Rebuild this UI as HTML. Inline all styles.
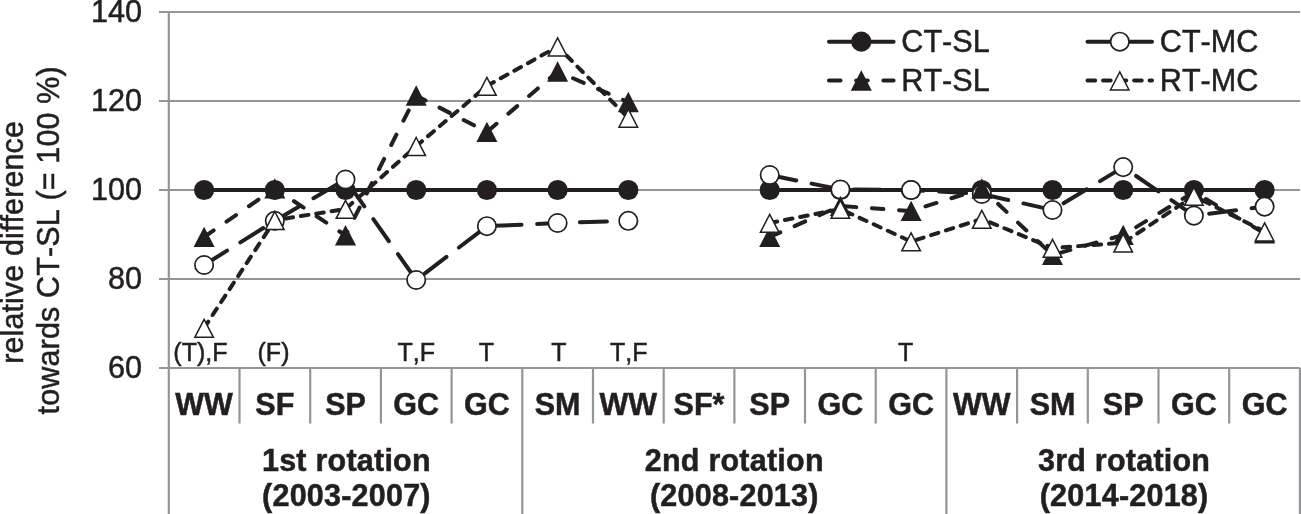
<!DOCTYPE html>
<html lang="en"><head><meta charset="utf-8"><title>Relative difference towards CT-SL</title>
<style>html,body{margin:0;padding:0;background:#fff;overflow:hidden}body{width:1301px;height:514px;position:relative;font-family:"Liberation Sans",sans-serif}</style>
</head><body>
<svg width="1301" height="514" viewBox="0 0 1301 514" style="display:block;position:absolute;left:0;top:0">
<rect width="1301" height="514" fill="#fff"/>
<line x1="159" y1="12.0" x2="1299.9" y2="12.0" stroke="#939598" stroke-width="2.2"/>
<line x1="159" y1="101.0" x2="1299.9" y2="101.0" stroke="#939598" stroke-width="2.2"/>
<line x1="159" y1="190.0" x2="1299.9" y2="190.0" stroke="#939598" stroke-width="2.2"/>
<line x1="159" y1="279.0" x2="1299.9" y2="279.0" stroke="#939598" stroke-width="2.2"/>
<line x1="159" y1="368.0" x2="1299.9" y2="368.0" stroke="#939598" stroke-width="2.2"/>
<line x1="168.8" y1="12.0" x2="168.8" y2="514" stroke="#939598" stroke-width="2.2"/>
<line x1="239.5" y1="368.0" x2="239.5" y2="423.5" stroke="#939598" stroke-width="2.2"/>
<line x1="310.2" y1="368.0" x2="310.2" y2="423.5" stroke="#939598" stroke-width="2.2"/>
<line x1="380.9" y1="368.0" x2="380.9" y2="423.5" stroke="#939598" stroke-width="2.2"/>
<line x1="451.6" y1="368.0" x2="451.6" y2="423.5" stroke="#939598" stroke-width="2.2"/>
<line x1="522.3" y1="368.0" x2="522.3" y2="514" stroke="#939598" stroke-width="2.2"/>
<line x1="593.0" y1="368.0" x2="593.0" y2="423.5" stroke="#939598" stroke-width="2.2"/>
<line x1="663.7" y1="368.0" x2="663.7" y2="423.5" stroke="#939598" stroke-width="2.2"/>
<line x1="734.4" y1="368.0" x2="734.4" y2="423.5" stroke="#939598" stroke-width="2.2"/>
<line x1="805.0" y1="368.0" x2="805.0" y2="423.5" stroke="#939598" stroke-width="2.2"/>
<line x1="875.7" y1="368.0" x2="875.7" y2="423.5" stroke="#939598" stroke-width="2.2"/>
<line x1="946.4" y1="368.0" x2="946.4" y2="514" stroke="#939598" stroke-width="2.2"/>
<line x1="1017.1" y1="368.0" x2="1017.1" y2="423.5" stroke="#939598" stroke-width="2.2"/>
<line x1="1087.8" y1="368.0" x2="1087.8" y2="423.5" stroke="#939598" stroke-width="2.2"/>
<line x1="1158.5" y1="368.0" x2="1158.5" y2="423.5" stroke="#939598" stroke-width="2.2"/>
<line x1="1229.2" y1="368.0" x2="1229.2" y2="423.5" stroke="#939598" stroke-width="2.2"/>
<line x1="1299.9" y1="368.0" x2="1299.9" y2="514" stroke="#939598" stroke-width="2.2"/>
<polyline points="204.1,190.0 274.8,190.0 345.5,190.0 416.2,190.0 486.9,190.0 557.6,190.0 628.3,190.0" fill="none" stroke="#231f20" stroke-width="4.0" stroke-linecap="round" stroke-linejoin="round"/>
<polyline points="769.7,190.0 840.4,190.0 911.1,190.0 981.8,190.0 1052.5,190.0 1123.2,190.0 1193.9,190.0 1264.6,190.0" fill="none" stroke="#231f20" stroke-width="4.0" stroke-linecap="round" stroke-linejoin="round"/>
<circle cx="204.1" cy="190.0" r="10.1" fill="#231f20"/>
<circle cx="274.8" cy="190.0" r="10.1" fill="#231f20"/>
<circle cx="345.5" cy="190.0" r="10.1" fill="#231f20"/>
<circle cx="416.2" cy="190.0" r="10.1" fill="#231f20"/>
<circle cx="486.9" cy="190.0" r="10.1" fill="#231f20"/>
<circle cx="557.6" cy="190.0" r="10.1" fill="#231f20"/>
<circle cx="628.3" cy="190.0" r="10.1" fill="#231f20"/>
<circle cx="769.7" cy="190.0" r="10.1" fill="#231f20"/>
<circle cx="840.4" cy="190.0" r="10.1" fill="#231f20"/>
<circle cx="911.1" cy="190.0" r="10.1" fill="#231f20"/>
<circle cx="981.8" cy="190.0" r="10.1" fill="#231f20"/>
<circle cx="1052.5" cy="190.0" r="10.1" fill="#231f20"/>
<circle cx="1123.2" cy="190.0" r="10.1" fill="#231f20"/>
<circle cx="1193.9" cy="190.0" r="10.1" fill="#231f20"/>
<circle cx="1264.6" cy="190.0" r="10.1" fill="#231f20"/>
<polyline points="204.1,265.0 274.8,220.8 345.5,179.5 416.2,280.0 486.9,226.2 557.6,223.0 628.3,220.8" fill="none" stroke="#231f20" stroke-width="4.0" stroke-linecap="round" stroke-linejoin="round" stroke-dasharray="27.08 15.65"/>
<polyline points="769.7,175.0 840.4,189.5 911.1,190.0 981.8,194.0 1052.5,210.0 1123.2,167.1 1193.9,215.6 1264.6,206.6" fill="none" stroke="#231f20" stroke-width="4.0" stroke-linecap="round" stroke-linejoin="round" stroke-dasharray="27.08 15.65"/>
<circle cx="204.1" cy="265.0" r="9.2" fill="#fff" stroke="#231f20" stroke-width="1.7"/>
<circle cx="274.8" cy="220.8" r="9.2" fill="#fff" stroke="#231f20" stroke-width="1.7"/>
<circle cx="345.5" cy="179.5" r="9.2" fill="#fff" stroke="#231f20" stroke-width="1.7"/>
<circle cx="416.2" cy="280.0" r="9.2" fill="#fff" stroke="#231f20" stroke-width="1.7"/>
<circle cx="486.9" cy="226.2" r="9.2" fill="#fff" stroke="#231f20" stroke-width="1.7"/>
<circle cx="557.6" cy="223.0" r="9.2" fill="#fff" stroke="#231f20" stroke-width="1.7"/>
<circle cx="628.3" cy="220.8" r="9.2" fill="#fff" stroke="#231f20" stroke-width="1.7"/>
<circle cx="769.7" cy="175.0" r="9.2" fill="#fff" stroke="#231f20" stroke-width="1.7"/>
<circle cx="840.4" cy="189.5" r="9.2" fill="#fff" stroke="#231f20" stroke-width="1.7"/>
<circle cx="911.1" cy="190.0" r="9.2" fill="#fff" stroke="#231f20" stroke-width="1.7"/>
<circle cx="981.8" cy="194.0" r="9.2" fill="#fff" stroke="#231f20" stroke-width="1.7"/>
<circle cx="1052.5" cy="210.0" r="9.2" fill="#fff" stroke="#231f20" stroke-width="1.7"/>
<circle cx="1123.2" cy="167.1" r="9.2" fill="#fff" stroke="#231f20" stroke-width="1.7"/>
<circle cx="1193.9" cy="215.6" r="9.2" fill="#fff" stroke="#231f20" stroke-width="1.7"/>
<circle cx="1264.6" cy="206.6" r="9.2" fill="#fff" stroke="#231f20" stroke-width="1.7"/>
<polyline points="204.1,237.0 274.8,188.5 345.5,235.4 416.2,95.6 486.9,132.0 557.6,71.6 628.3,102.1" fill="none" stroke="#231f20" stroke-width="4.0" stroke-linecap="round" stroke-linejoin="round" stroke-dasharray="11.54 15.65"/>
<polyline points="769.7,237.0 840.4,206.0 911.1,211.0 981.8,188.6 1052.5,255.0 1123.2,235.0 1193.9,192.0 1264.6,233.4" fill="none" stroke="#231f20" stroke-width="4.0" stroke-linecap="round" stroke-linejoin="round" stroke-dasharray="11.54 15.65"/>
<polygon points="204.1,228.3 213.4,246.3 194.8,246.3" fill="#231f20" stroke="#231f20" stroke-width="1.5" stroke-linejoin="miter"/>
<polygon points="274.8,179.8 284.1,197.8 265.5,197.8" fill="#231f20" stroke="#231f20" stroke-width="1.5" stroke-linejoin="miter"/>
<polygon points="345.5,226.7 354.8,244.7 336.2,244.7" fill="#231f20" stroke="#231f20" stroke-width="1.5" stroke-linejoin="miter"/>
<polygon points="416.2,86.9 425.5,104.9 406.9,104.9" fill="#231f20" stroke="#231f20" stroke-width="1.5" stroke-linejoin="miter"/>
<polygon points="486.9,123.3 496.2,141.3 477.6,141.3" fill="#231f20" stroke="#231f20" stroke-width="1.5" stroke-linejoin="miter"/>
<polygon points="557.6,62.9 566.9,80.9 548.3,80.9" fill="#231f20" stroke="#231f20" stroke-width="1.5" stroke-linejoin="miter"/>
<polygon points="628.3,93.4 637.6,111.4 619.0,111.4" fill="#231f20" stroke="#231f20" stroke-width="1.5" stroke-linejoin="miter"/>
<polygon points="769.7,228.3 779.0,246.3 760.4,246.3" fill="#231f20" stroke="#231f20" stroke-width="1.5" stroke-linejoin="miter"/>
<polygon points="840.4,197.3 849.7,215.3 831.1,215.3" fill="#231f20" stroke="#231f20" stroke-width="1.5" stroke-linejoin="miter"/>
<polygon points="911.1,202.3 920.4,220.3 901.8,220.3" fill="#231f20" stroke="#231f20" stroke-width="1.5" stroke-linejoin="miter"/>
<polygon points="981.8,179.9 991.1,197.9 972.5,197.9" fill="#231f20" stroke="#231f20" stroke-width="1.5" stroke-linejoin="miter"/>
<polygon points="1052.5,246.3 1061.8,264.3 1043.2,264.3" fill="#231f20" stroke="#231f20" stroke-width="1.5" stroke-linejoin="miter"/>
<polygon points="1123.2,226.3 1132.5,244.3 1113.9,244.3" fill="#231f20" stroke="#231f20" stroke-width="1.5" stroke-linejoin="miter"/>
<polygon points="1193.9,183.3 1203.2,201.3 1184.6,201.3" fill="#231f20" stroke="#231f20" stroke-width="1.5" stroke-linejoin="miter"/>
<polygon points="1264.6,224.7 1273.9,242.7 1255.3,242.7" fill="#231f20" stroke="#231f20" stroke-width="1.5" stroke-linejoin="miter"/>
<polyline points="204.1,328.0 274.8,220.2 345.5,209.0 416.2,146.2 486.9,86.0 557.6,46.6 628.3,117.9" fill="none" stroke="#231f20" stroke-width="4.0" stroke-linecap="round" stroke-linejoin="round" stroke-dasharray="7.65 7.88"/>
<polyline points="769.7,223.0 840.4,209.0 911.1,241.5 981.8,219.0 1052.5,248.0 1123.2,242.8 1193.9,196.0 1264.6,231.6" fill="none" stroke="#231f20" stroke-width="4.0" stroke-linecap="round" stroke-linejoin="round" stroke-dasharray="7.65 7.88"/>
<polygon points="204.1,319.3 213.4,337.3 194.8,337.3" fill="#fff" stroke="#231f20" stroke-width="1.5" stroke-linejoin="miter"/>
<polygon points="274.8,211.5 284.1,229.6 265.5,229.6" fill="#fff" stroke="#231f20" stroke-width="1.5" stroke-linejoin="miter"/>
<polygon points="345.5,200.3 354.8,218.3 336.2,218.3" fill="#fff" stroke="#231f20" stroke-width="1.5" stroke-linejoin="miter"/>
<polygon points="416.2,137.5 425.5,155.6 406.9,155.6" fill="#fff" stroke="#231f20" stroke-width="1.5" stroke-linejoin="miter"/>
<polygon points="486.9,77.3 496.2,95.3 477.6,95.3" fill="#fff" stroke="#231f20" stroke-width="1.5" stroke-linejoin="miter"/>
<polygon points="557.6,37.9 566.9,55.9 548.3,55.9" fill="#fff" stroke="#231f20" stroke-width="1.5" stroke-linejoin="miter"/>
<polygon points="628.3,109.2 637.6,127.2 619.0,127.2" fill="#fff" stroke="#231f20" stroke-width="1.5" stroke-linejoin="miter"/>
<polygon points="769.7,214.3 779.0,232.3 760.4,232.3" fill="#fff" stroke="#231f20" stroke-width="1.5" stroke-linejoin="miter"/>
<polygon points="840.4,200.3 849.7,218.3 831.1,218.3" fill="#fff" stroke="#231f20" stroke-width="1.5" stroke-linejoin="miter"/>
<polygon points="911.1,232.8 920.4,250.8 901.8,250.8" fill="#fff" stroke="#231f20" stroke-width="1.5" stroke-linejoin="miter"/>
<polygon points="981.8,210.3 991.1,228.3 972.5,228.3" fill="#fff" stroke="#231f20" stroke-width="1.5" stroke-linejoin="miter"/>
<polygon points="1052.5,239.3 1061.8,257.3 1043.2,257.3" fill="#fff" stroke="#231f20" stroke-width="1.5" stroke-linejoin="miter"/>
<polygon points="1123.2,234.0 1132.5,252.1 1113.9,252.1" fill="#fff" stroke="#231f20" stroke-width="1.5" stroke-linejoin="miter"/>
<polygon points="1193.9,187.3 1203.2,205.3 1184.6,205.3" fill="#fff" stroke="#231f20" stroke-width="1.5" stroke-linejoin="miter"/>
<polygon points="1264.6,222.9 1273.9,240.9 1255.3,240.9" fill="#fff" stroke="#231f20" stroke-width="1.5" stroke-linejoin="miter"/>
<line x1="829.0" y1="41.7" x2="893.6" y2="41.7" stroke="#231f20" stroke-width="4.0" stroke-linecap="round"/>
<circle cx="861.3" cy="41.7" r="10.1" fill="#231f20"/>
<line x1="829.0" y1="80.6" x2="893.6" y2="80.6" stroke="#231f20" stroke-width="4.0" stroke-linecap="round" stroke-dasharray="11.54 15.65"/>
<polygon points="861.3,71.9 870.6,89.9 852.0,89.9" fill="#231f20" stroke="#231f20" stroke-width="1.5" stroke-linejoin="miter"/>
<line x1="1087.5" y1="41.7" x2="1152.0" y2="41.7" stroke="#231f20" stroke-width="4.0" stroke-linecap="round"/>
<circle cx="1119.8" cy="41.7" r="9.2" fill="#fff" stroke="#231f20" stroke-width="1.7"/>
<line x1="1087.5" y1="80.6" x2="1152.0" y2="80.6" stroke="#231f20" stroke-width="4.0" stroke-linecap="round" stroke-dasharray="7.65 7.88"/>
<polygon points="1119.8,71.9 1129.0,89.9 1110.5,89.9" fill="#fff" stroke="#231f20" stroke-width="1.5" stroke-linejoin="miter"/>
<g font-family="Liberation Sans, sans-serif" fill="#231f20" stroke="#231f20" stroke-width="0.5" style="font-kerning:none" font-size="30.6">
<text x="901.3" y="52.1">CT-SL</text>
<text x="901.3" y="91">RT-SL</text>
<text x="1159.8" y="52.1">CT-MC</text>
<text x="1159.8" y="91">RT-MC</text>
</g>
<g font-family="Liberation Sans, sans-serif" fill="#231f20" stroke="#231f20" stroke-width="0.5" style="font-kerning:none" font-size="30.6" text-anchor="end">
<text x="142" y="22.1">140</text>
<text x="142" y="111.2">120</text>
<text x="142" y="200.2">100</text>
<text x="142" y="289.1">80</text>
<text x="142" y="378.1">60</text>
</g>
<g font-family="Liberation Sans, sans-serif" fill="#231f20" stroke="#231f20" stroke-width="0.5" style="font-kerning:none" font-size="25" text-anchor="middle">
<text x="200.4" y="361.3">(T),F</text>
<text x="273.5" y="361.3">(F)</text>
<text x="416.2" y="361.3">T,F</text>
<text x="486.5" y="361.3">T</text>
<text x="558.8" y="361.3">T</text>
<text x="628.8" y="361.3">T,F</text>
<text x="905.7" y="361.3">T</text>
</g>
<g font-family="Liberation Sans, sans-serif" fill="#231f20" stroke="#231f20" stroke-width="0.5" style="font-kerning:none" font-size="30.5" font-weight="bold" text-anchor="middle">
<text x="204.1" y="415.3">WW</text>
<text x="274.8" y="415.3">SF</text>
<text x="345.5" y="415.3">SP</text>
<text x="416.2" y="415.3">GC</text>
<text x="486.9" y="415.3">GC</text>
<text x="557.6" y="415.3">SM</text>
<text x="628.3" y="415.3">WW</text>
<text x="699.0" y="415.3">SF*</text>
<text x="769.7" y="415.3">SP</text>
<text x="840.4" y="415.3">GC</text>
<text x="911.1" y="415.3">GC</text>
<text x="981.8" y="415.3">WW</text>
<text x="1052.5" y="415.3">SM</text>
<text x="1123.2" y="415.3">SP</text>
<text x="1193.9" y="415.3">GC</text>
<text x="1264.6" y="415.3">GC</text>
</g>
<g font-family="Liberation Sans, sans-serif" fill="#231f20" stroke="#231f20" stroke-width="0.5" style="font-kerning:none" font-size="30.5" font-weight="bold" text-anchor="middle" letter-spacing="0.23">
<text x="346.4" y="470.5">1st rotation</text>
<text x="346.4" y="506">(2003-2007)</text>
<text x="734.3" y="470.5">2nd rotation</text>
<text x="734.3" y="506">(2008-2013)</text>
<text x="1124.1" y="470.5">3rd rotation</text>
<text x="1124.1" y="506">(2014-2018)</text>
</g>
<g font-family="Liberation Sans, sans-serif" fill="#231f20" stroke="#231f20" stroke-width="0.5" style="font-kerning:none" font-size="30.5" text-anchor="middle">
<text transform="translate(22.5,242.4) rotate(-90)" letter-spacing="0.11">relative difference</text>
<text transform="translate(59,240.3) rotate(-90)" letter-spacing="0.14">towards CT-SL (= 100 %)</text>
</g>
</svg>
</body></html>
